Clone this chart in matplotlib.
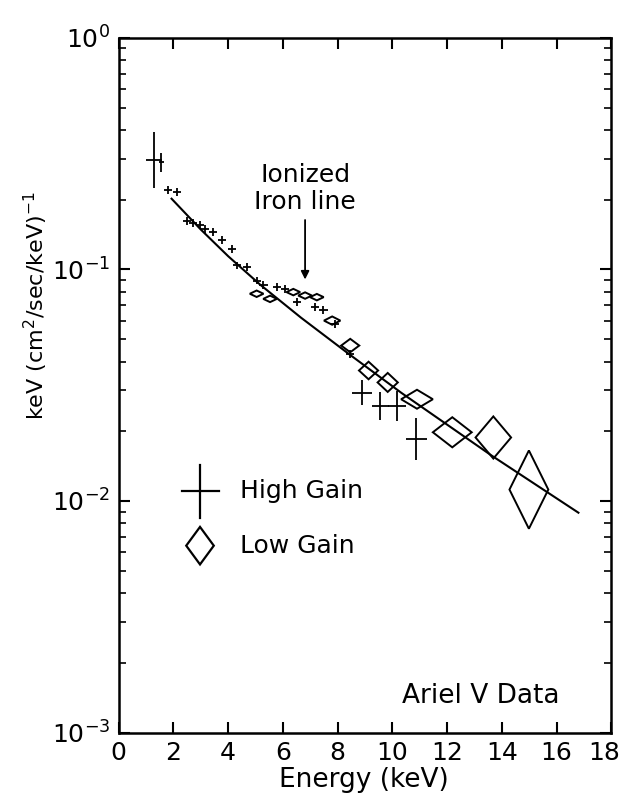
import numpy as np
import matplotlib
matplotlib.use('Agg')
import matplotlib.pyplot as plt
from matplotlib.patches import Polygon
from matplotlib.transforms import ScaledTranslation

plt.rcParams['font.family'] = ['DejaVu Sans']
plt.rcParams['mathtext.default'] = 'regular'

# High gain points: energy (keV), energy half-width, flux, half error (dex)
hg_E = [1.28, 1.56, 1.81, 2.14, 2.50, 2.72, 2.97, 3.15, 3.45, 3.76, 4.13, 4.31,
        4.68, 5.04, 5.29, 5.78, 6.08, 6.51, 7.18, 7.48, 7.91, 8.46,
        8.89, 9.56, 10.17, 10.88]
hg_dE = [0.29, 0.10, 0.15, 0.15, 0.15, 0.15, 0.15, 0.15, 0.15, 0.15, 0.15, 0.15,
         0.15, 0.15, 0.15, 0.15, 0.15, 0.15, 0.15, 0.15, 0.15, 0.15,
         0.37, 0.31, 0.33, 0.37]
hg_flux = [0.296, 0.29, 0.220, 0.216, 0.162, 0.158, 0.155, 0.150, 0.145, 0.134,
           0.123, 0.104, 0.102, 0.0895, 0.0853, 0.0838, 0.0824, 0.0723, 0.0687,
           0.0665, 0.0582, 0.0432, 0.0294, 0.0258, 0.0258, 0.0185]
hg_dlog = [0.12, 0.04, 0.017, 0.017, 0.017, 0.017, 0.017, 0.017, 0.017, 0.017,
           0.017, 0.017, 0.017, 0.017, 0.017, 0.017, 0.017, 0.017, 0.017, 0.017,
           0.017, 0.017, 0.052, 0.061, 0.065, 0.091]

# Low gain points (diamonds)
lg_E = [5.04, 5.53, 6.38, 6.81, 7.24, 7.80, 8.46, 9.13, 9.83, 10.9, 12.19, 13.69, 14.99]
lg_dE = [0.25, 0.25, 0.25, 0.25, 0.25, 0.30, 0.33, 0.35, 0.37, 0.58, 0.71, 0.65, 0.71]
lg_flux = [0.0785, 0.0746, 0.0798, 0.0771, 0.0759, 0.0601, 0.0469, 0.0366, 0.0325,
           0.0275, 0.0198, 0.0188, 0.0112]
lg_dlog = [0.014, 0.014, 0.014, 0.014, 0.014, 0.018, 0.029, 0.038, 0.041, 0.041,
           0.065, 0.091, 0.169]

# fitted continuum
fit_E = [1.93, 3.0, 4.0, 5.16, 6.66, 8.38, 10.33, 13.63, 16.8]
fit_flux = [0.202, 0.1486, 0.114, 0.0861, 0.0619, 0.0434, 0.0293, 0.0157, 0.0089]

fig = plt.figure(figsize=(6.25, 8.05), dpi=100)
ax = fig.add_axes([0.19, 0.09, 0.788, 0.863])
ax.set_yscale('log')
ax.set_xlim(0, 18)
ax.set_ylim(1e-3, 1)

ax.plot(fit_E, fit_flux, color='black', lw=1.5)

hg_flux = np.array(hg_flux)
fac = 10 ** np.array(hg_dlog)
ax.errorbar(hg_E, hg_flux, xerr=hg_dE,
            yerr=[hg_flux - hg_flux / fac, hg_flux * fac - hg_flux],
            fmt='none', ecolor='black', elinewidth=1.3, capsize=0)

for e, de, f, dl in zip(lg_E, lg_dE, lg_flux, lg_dlog):
    verts = [(e - de, f), (e, f * 10 ** dl), (e + de, f), (e, f / 10 ** dl)]
    ax.add_patch(Polygon(verts, closed=True, fill=False, edgecolor='black', lw=1.4))

# annotation
ax.text(6.81, 0.224, 'Ionized\nIron line', ha='center', va='center', fontsize=18,
        linespacing=1.15)
ax.annotate('', xy=(6.81, 0.088), xytext=(6.81, 0.168),
            arrowprops=dict(arrowstyle='-|>', color='black', lw=1.3,
                            mutation_scale=12))

# legend drawn by hand
ax.plot([0.128, 0.203], [0.347, 0.347], color='black', lw=1.6, transform=ax.transAxes)
ax.plot([0.165, 0.165], [0.309, 0.385], color='black', lw=1.6, transform=ax.transAxes)
ax.add_patch(Polygon([(0.137, 0.269), (0.165, 0.296), (0.193, 0.269), (0.165, 0.242)],
                     closed=True, fill=False, edgecolor='black', lw=1.6,
                     transform=ax.transAxes))
ax.text(0.246, 0.347, 'High Gain', transform=ax.transAxes, va='center', fontsize=18)
ax.text(0.246, 0.269, 'Low Gain', transform=ax.transAxes, va='center', fontsize=18)

ax.text(0.736, 0.052, 'Ariel \u2164 Data', transform=ax.transAxes, ha='center',
        va='center', fontsize=19)

ax.set_xticks(range(0, 19, 2))
ax.tick_params(which='both', direction='in', top=True, right=True, labelsize=18)
ax.tick_params(which='major', length=8, width=1.5, pad=6)
ax.tick_params(which='minor', length=5, width=1.2)
for s in ax.spines.values():
    s.set_linewidth(1.8)

# pull the last x label a little inward so it stays on the page
last = ax.xaxis.get_major_ticks()[-1].label1
last.set_transform(last.get_transform() + ScaledTranslation(-5 / 72, 0, fig.dpi_scale_trans))

ax.set_xlabel('Energy (keV)', fontsize=19)
ax.xaxis.set_label_coords(0.497, -0.05)
ax.set_ylabel('keV (cm$^2$/sec/keV)$^{-1}$', fontsize=16)
ax.yaxis.set_label_coords(-0.14, 0.615)

fig.savefig('out.png', dpi=100)
